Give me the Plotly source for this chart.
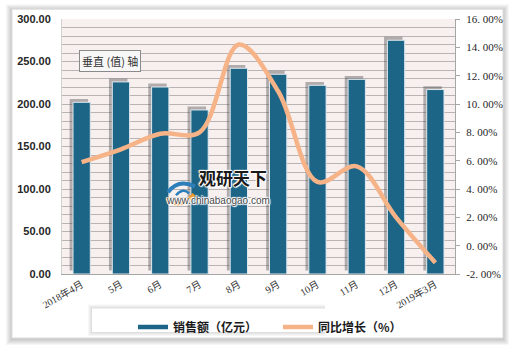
import plotly.graph_objects as go

categories = ["2018年4月", "5月", "6月", "7月", "8月", "9月", "10月", "11月", "12月", "2019年3月"]
sales = [202, 226, 220, 193, 242, 235, 222, 229, 275, 217]
growth = [5.9, 6.8, 7.9, 8.0, 14.2, 10.9, 4.5, 5.6, 2.0, -1.2]
left_ticks = [0, 50, 100, 150, 200, 250, 300]
left_labels = ["0.00", "50.00", "100.00", "150.00", "200.00", "250.00", "300.00"]
right_ticks = [-2, 0, 2, 4, 6, 8, 10, 12, 14, 16]
right_labels = ["-2. 00%", "0. 00%", "2. 00%", "4. 00%", "6. 00%", "8. 00%", "10. 00%", "12. 00%", "14. 00%", "16. 00%"]

BAR = "#1c6587"
LINE = "#f5b387"
W, H = 520, 353
L, R, T, B = 62, 65, 19, 75
PW, PH = W - L - R, H - T - B


def px(x):
    return (x - L) / PW


def py(y):
    return (H - B - y) / PH


fig = go.Figure()

# bar shadows (base subplot, slightly shifted ranges)
fig.add_trace(go.Bar(x=categories, y=sales, xaxis="x", yaxis="y",
                     marker=dict(color="rgba(70,70,70,0.4)", line=dict(width=0)),
                     width=0.47, showlegend=False, hoverinfo="skip"))
# main bars
fig.add_trace(go.Bar(x=categories, y=sales, xaxis="x2", yaxis="y2", name="销售额（亿元）",
                     marker=dict(color=BAR, line=dict(color="#dfe9ef", width=1)),
                     width=0.44, showlegend=False))
# growth line
fig.add_trace(go.Scatter(x=categories, y=growth, xaxis="x2", yaxis="y3", mode="lines",
                         line=dict(color=LINE, width=4.5, shape="spline", smoothing=1.0),
                         showlegend=False))
# legend entries
fig.add_trace(go.Scatter(x=[None], y=[None], xaxis="x2", yaxis="y3", mode="lines",
                         name="销售额（亿元）", line=dict(color=BAR, width=4.5)))
fig.add_trace(go.Scatter(x=[None], y=[None], xaxis="x2", yaxis="y3", mode="lines",
                         name="同比增长（%）", line=dict(color=LINE, width=4.5)))

shapes = []
# chart box shadow
for i in range(6, 0, -1):
    shapes.append(dict(type="rect", xref="paper", yref="paper",
                       x0=px(12 - i), x1=px(503 + i), y0=py(343 + i + 1), y1=py(9 - i + 1),
                       fillcolor="rgba(0,0,0,0.035)", line=dict(width=0), layer="below"))
shapes.append(dict(type="rect", xref="paper", yref="paper",
                   x0=px(12), x1=px(503), y0=py(343), y1=py(9),
                   fillcolor="white", line=dict(color="#dcdcdc", width=1), layer="below"))
# plot area background
shapes.append(dict(type="rect", xref="paper", yref="paper", x0=0, x1=1, y0=0, y1=1,
                   fillcolor="#f8efef", line=dict(width=0), layer="below"))
# legend box shadow
for i in range(4, 0, -1):
    shapes.append(dict(type="rect", xref="paper", yref="paper",
                       x0=px(92 - i), x1=px(325), y0=py(337 + i), y1=py(313 - i),
                       fillcolor="rgba(0,0,0,0.03)", line=dict(width=0), layer="below"))
shapes.append(dict(type="rect", xref="paper", yref="paper",
                   x0=px(92), x1=px(325), y0=py(337), y1=py(313),
                   fillcolor="white", line=dict(width=0), layer="below"))
# watermark logo
shapes.append(dict(type="path", xref="paper", yref="paper",
                   path=f"M {px(168)},{py(195)} Q {px(178)},{py(181)} {px(195)},{py(189)}",
                   line=dict(color="#2c7fb8", width=4)))
shapes.append(dict(type="path", xref="paper", yref="paper",
                   path=f"M {px(167)},{py(201)} Q {px(180)},{py(213)} {px(194)},{py(197)}",
                   line=dict(color="#f39c2a", width=4)))
shapes.append(dict(type="path", xref="paper", yref="paper",
                   path=f"M {px(176)},{py(198)} Q {px(183)},{py(190)} {px(189)},{py(196)}",
                   line=dict(color="#2c7fb8", width=2.5)))

HALO = ("1px 0px 1px white, -1px 0px 1px white, 0px 1px 1px white, 0px -1px 1px white, "
        "1px 1px 1px white, -1px -1px 1px white")

annotations = [
    dict(xref="paper", yref="paper", x=px(79), y=py(50.5), text="垂直 (值) 轴",
         showarrow=False, font=dict(family="Noto Sans CJK SC", size=11, color="#333333"),
         bgcolor="#f7f7f7", bordercolor="#8a8a8a", borderwidth=1, borderpad=2),
    dict(xref="paper", yref="paper", x=px(233), y=py(195), text="<b>观研天下</b>",
         showarrow=False, font=dict(family="Noto Sans CJK SC", size=17, color="#1a1a1a",
                                    shadow=HALO)),
    dict(xref="paper", yref="paper", x=px(218), y=py(211), text="www.chinabaogao.com",
         showarrow=False, font=dict(family="Liberation Sans", size=10, color="#4a4a4a",
                                    shadow=HALO)),
]

cat_font = dict(family="Liberation Serif, Noto Sans CJK SC", size=10, color="#333333")

fig.update_layout(
    width=W, height=H,
    margin=dict(l=L, r=R, t=T, b=B, pad=0),
    paper_bgcolor="white",
    plot_bgcolor="rgba(0,0,0,0)",
    barmode="overlay",
    shapes=shapes,
    annotations=annotations,
    # base axes: only carry the shifted shadow bars
    xaxis=dict(type="category", range=[-0.43, 9.57], visible=False, showgrid=False),
    yaxis=dict(range=[-4, 296], visible=False, showgrid=False, zeroline=False),
    # visible category axis
    xaxis2=dict(type="category", overlaying="x", range=[-0.5, 9.5], showgrid=False,
                showline=True, linecolor="#a6a6a6", linewidth=1,
                tickangle=-30, ticks="", side="bottom", anchor="y2",
                tickfont=cat_font),
    yaxis2=dict(range=[0, 300], tickvals=left_ticks, ticktext=left_labels, overlaying="y",
                side="left", anchor="x2",
                showgrid=True, gridcolor="#b8b4b4", gridwidth=1,
                minor=dict(dtick=10, showgrid=True, gridcolor="#b8b4b4", gridwidth=1),
                showline=True, linecolor="#d0d0d0", zeroline=False, ticks="",
                ticklabelstandoff=8,
                tickfont=dict(family="Liberation Sans", size=11, color="#262626", weight="bold")),
    yaxis3=dict(range=[-2, 16], tickvals=right_ticks, ticktext=right_labels,
                overlaying="y", side="right", anchor="x2", showgrid=False, zeroline=False,
                showline=True, linecolor="#a6a6a6", linewidth=1,
                ticks="outside", ticklen=4, tickcolor="#a6a6a6",
                ticklabelstandoff=4,
                tickfont=dict(family="Liberation Serif", size=11, color="#262626")),
    legend=dict(orientation="h", x=px(133), y=py(317), xanchor="left", yanchor="top",
                bgcolor="rgba(0,0,0,0)", entrywidth=100,
                font=dict(family="Noto Sans CJK SC", size=12, color="#1a1a1a", weight="bold"),
                itemwidth=30, tracegroupgap=0),
)

fig.write_html("out.html")
